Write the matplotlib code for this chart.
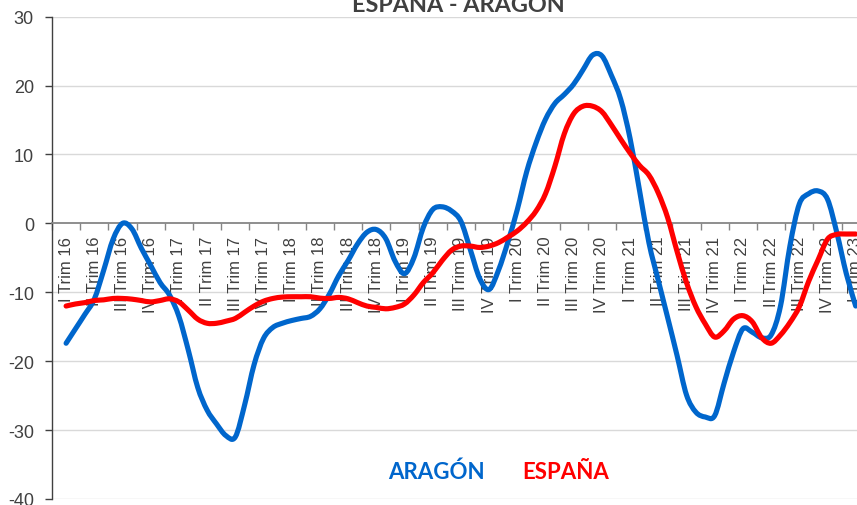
import numpy as np
import matplotlib
matplotlib.use("Agg")
import matplotlib.pyplot as plt
from matplotlib.ticker import FixedLocator
from matplotlib.path import Path
from matplotlib.patches import PathPatch

categories = []
for yr in range(16, 24):
    for q in ["I", "II", "III", "IV"]:
        categories.append(f"{q} Trim {yr}")
categories = categories[:29]  # I Trim 16 ... I Trim 23

# monthly readings (3 per quarter) from I Trim 16 to I Trim 23
aragon = [-17.4, -15.3, -13.2, -11.0, -6.8, -2.3, 0.0, -0.8, -3.6, -6.1,
          -8.6, -10.4, -13.5, -18.4, -23.8, -27.1, -29.1, -30.8, -31.0, -26.3,
          -20.5, -16.7, -15.1, -14.5, -14.1, -13.8, -13.5, -12.4, -10.3, -7.6,
          -5.4, -3.0, -1.3, -0.9, -2.2, -5.5, -7.3, -5.0, -0.6, 2.0,
          2.4, 1.8, 0.3, -3.8, -8.0, -9.6, -6.8, -2.7, 2.0, 7.5,
          11.7, 15.1, 17.4, 18.7, 20.2, 22.3, 24.4, 24.3, 21.5, 18.0,
          12.3, 4.8, -2.8, -8.3, -13.7, -19.2, -24.9, -27.4, -28.1, -27.9,
          -23.2, -18.7, -15.3, -15.8, -16.6, -16.2, -12.0, -3.3, 2.8, 4.3,
          4.7, 3.5, -1.4, -7.3, -12.0]
espana = [-12.0, -11.7, -11.5, -11.2, -11.1, -10.9, -10.9, -11.0, -11.2, -11.4,
          -11.2, -10.95, -11.4, -12.6, -13.9, -14.5, -14.5, -14.2, -13.8, -12.9,
          -12.0, -11.3, -10.9, -10.7, -10.65, -10.65, -10.65, -10.85, -10.9, -10.75,
          -10.95, -11.5, -12.0, -12.2, -12.4, -12.2, -11.7, -10.4, -8.6, -7.2,
          -5.4, -3.9, -3.3, -3.3, -3.5, -3.3, -2.8, -2.0, -1.1, 0.15,
          1.8, 4.3, 8.3, 13.0, 15.9, 17.0, 17.0, 16.2, 14.3, 12.2,
          10.2, 8.4, 7.0, 4.4, 0.8, -4.1, -8.6, -12.1, -14.6, -16.5,
          -15.6, -13.9, -13.4, -14.3, -16.6, -17.4, -16.2, -14.4, -12.1, -8.4,
          -5.3, -2.3, -1.6, -1.55, -1.55]
yticks = [30, 20, 10, 0, -10, -20, -30, -40]


def smooth_path(x, y):
    """Excel-style smoothed line: cubic Bezier segments through every point."""
    p = np.column_stack([x, y]).astype(float)
    pp = np.vstack([p[0], p, p[-1]])
    verts = [p[0]]
    codes = [Path.MOVETO]
    for i in range(len(p) - 1):
        p0, p1, p2, p3 = pp[i], pp[i + 1], pp[i + 2], pp[i + 3]
        c1 = p1 + (p2 - p0) / 6.0
        c2 = p2 - (p3 - p1) / 6.0
        verts += [c1, c2, p2]
        codes += [Path.CURVE4] * 3
    return Path(verts, codes)


W, H = 857, 506
fig = plt.figure(figsize=(W / 100, H / 100), dpi=100)
n = len(categories)
step = 28.2
left_px, bottom_px, top_px = 52, 500, 17.6
ax = fig.add_axes([left_px / W, (H - bottom_px) / H,
                   n * step / W, (bottom_px - top_px) / H])

xs = np.arange(len(aragon)) / 3.0
for data, col in [(aragon, "#0066CC"), (espana, "#FF0000")]:
    ax.add_patch(PathPatch(smooth_path(xs, data), facecolor="none",
                           edgecolor=col, lw=3.7, capstyle="round",
                           joinstyle="round", zorder=3))

ax.set_xlim(-0.5, n - 0.5)
ax.set_ylim(-40, 30)

ax.spines["top"].set_visible(False)
ax.spines["right"].set_visible(False)
ax.spines["bottom"].set_position(("data", 0))
ax.spines["bottom"].set_color("#868686")
ax.spines["bottom"].set_linewidth(1.3)
ax.spines["left"].set_color("#404040")
ax.spines["left"].set_linewidth(1.0)

ax.set_yticks(yticks)
ax.set_yticklabels([str(v) for v in yticks], fontsize=13, color="#404040",
                   family="Liberation Sans")
ax.tick_params(axis="y", length=5, width=1, color="#404040", pad=8)

ax.xaxis.set_major_locator(FixedLocator(np.arange(-0.5, n, 1.0)))
ax.xaxis.set_minor_locator(FixedLocator(np.arange(0, n, 1.0)))
ax.tick_params(axis="x", which="major", length=5, width=1, color="#868686",
               labelbottom=False)
ax.tick_params(axis="x", which="minor", length=0, pad=9)
ax.set_xticklabels(categories, minor=True, rotation=90, fontsize=12,
                   color="#404040", family="Liberation Sans", va="top",
                   ha="center")

for v in yticks:
    if v != 0:
        ax.axhline(v, color="#D9D9D9", lw=1.0, zorder=1)

fig.text(458 / W, 1 - 11.7 / H, "ESPAÑA - ARAGÓN", ha="center", va="baseline",
         fontsize=16.8, fontweight="bold", color="#404040", family="Lato")
fig.text(436 / W, 1 - 479 / H, "ARAGÓN", ha="center", va="baseline",
         fontsize=16, fontweight="bold", color="#0066CC", family="Lato")
fig.text(566 / W, 1 - 479 / H, "ESPAÑA", ha="center", va="baseline",
         fontsize=16, fontweight="bold", color="#FF0000", family="Lato")

fig.savefig("out.png", dpi=100)
